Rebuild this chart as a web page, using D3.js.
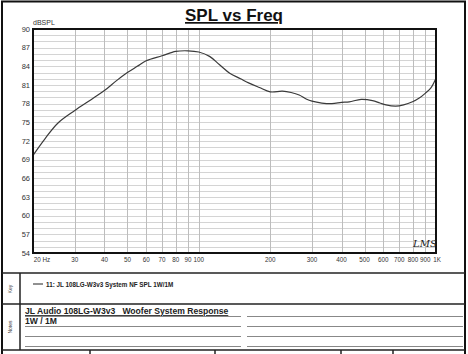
<!DOCTYPE html>
<html>
<head>
<meta charset="utf-8">
<script src="https://cdn.jsdelivr.net/npm/d3@7"></script>
<style>
  html, body { margin: 0; padding: 0; background: #fff; }
  svg { display: block; font-family: "Liberation Sans", Arial, sans-serif; }
</style>
</head>
<body>
<div id="chart"></div>
<script>
// curve data
const freqs = [20, 22.5, 25.5, 30, 35, 40, 45, 50, 55, 60, 70, 80, 90, 100, 111, 122, 135, 150, 163, 180,
  200, 225, 245, 265, 285, 300, 330, 364, 400, 431, 484, 540, 580, 615, 676, 730, 796, 850, 903, 950, 1000];
const spl = [69.7, 72.4, 74.9, 76.9, 78.6, 80.1, 81.7, 83.0, 84.0, 84.9, 85.7, 86.4, 86.5, 86.3, 85.6, 84.3, 82.9, 82.0, 81.3, 80.6,
  79.9, 80.0, 79.8, 79.4, 78.7, 78.4, 78.1, 78.0, 78.2, 78.3, 78.7, 78.5, 78.1, 77.8, 77.6, 77.8, 78.3, 78.9, 79.7, 80.5, 82.1];

const yTicks = [90, 87, 84, 81, 78, 75, 72, 69, 66, 63, 60, 57, 54];
const xGrid = [20, 30, 40, 50, 60, 70, 80, 90, 100, 200, 300, 400, 500, 600, 700, 800, 900, 1000];
const xLabels = ["20 Hz", "30", "40", "50", "60", "70", "80", "90", "100", "200", "300", "400", "500", "600", "700", "800", "900", "1K"];

const title = "SPL vs Freq";
const keyText = "11: JL 108LG-W3v3 System NF SPL 1W/1M";
const notes = ["JL Audio 108LG-W3v3   Woofer System Response", "1W / 1M"];

const width = 468, height = 354;
const plot = { left: 33, right: 436, top: 29, bottom: 253 };

const svg = d3.select("#chart").append("svg")
  .attr("width", width).attr("height", height);

const x = d3.scaleLog().domain([20, 1000]).range([plot.left, plot.right]);
const y = d3.scaleLinear().domain([54, 90]).range([plot.bottom, plot.top]);

// outer frame
svg.append("rect").attr("x", 2).attr("y", 1.5).attr("width", 463).attr("height", 360)
  .attr("fill", "none").attr("stroke", "#111").attr("stroke-width", 2);

// title
svg.append("text").attr("x", 234).attr("y", 21).attr("text-anchor", "middle")
  .attr("font-size", 17).attr("font-weight", "bold").attr("fill", "#111")
  .attr("text-decoration", "underline").text(title);

// grid: 1 dB horizontal lines
const g = svg.append("g");
g.selectAll(".hg").data(d3.range(55, 90)).enter().append("line")
  .attr("x1", plot.left).attr("x2", plot.right)
  .attr("y1", d => Math.round(y(d)) + 0.5).attr("y2", d => Math.round(y(d)) + 0.5)
  .attr("stroke", "#d4d4d4").attr("stroke-width", 1);
g.selectAll(".vg").data(xGrid.slice(1, -1)).enter().append("line")
  .attr("y1", plot.top).attr("y2", plot.bottom)
  .attr("x1", d => Math.round(x(d)) + 0.5).attr("x2", d => Math.round(x(d)) + 0.5)
  .attr("stroke", "#bdbdbd").attr("stroke-width", 1);

// y tick labels
svg.selectAll(".yl").data(yTicks).enter().append("text")
  .attr("x", 30).attr("y", d => y(d) + 2.5).attr("text-anchor", "end")
  .attr("font-size", 7.5).attr("fill", "#333").text(d => d);
svg.append("text").attr("x", 33).attr("y", 25).attr("font-size", 7).attr("fill", "#333").text("dBSPL");

// x tick labels
svg.selectAll(".xl").data(xGrid).enter().append("text")
  .attr("x", (d, i) => i === 0 ? x(d) + 9 : (i === xGrid.length - 1 ? x(d) + 1 : x(d)))
  .attr("y", 262).attr("text-anchor", "middle")
  .attr("font-size", 6.3).attr("fill", "#333").text((d, i) => xLabels[i]);

// response curve
const line = d3.line().x((d, i) => x(freqs[i])).y(d => y(d)).curve(d3.curveCatmullRom);
svg.append("path").datum(spl).attr("d", line)
  .attr("fill", "none").attr("stroke", "#3a3a3a").attr("stroke-width", 1.2);

// plot border
svg.append("rect").attr("x", plot.left).attr("y", plot.top)
  .attr("width", plot.right - plot.left).attr("height", plot.bottom - plot.top)
  .attr("fill", "none").attr("stroke", "#111").attr("stroke-width", 2);

// LMS mark
svg.append("text").attr("x", 413).attr("y", 247).attr("font-size", 10)
  .attr("font-style", "italic").attr("font-family", "DejaVu Serif").attr("fill", "#222").text("LMS");

// lower table
const frame = svg.append("g").attr("stroke", "#222").attr("stroke-width", 1.5);
[273, 304, 350].forEach(v => frame.append("line").attr("x1", 2).attr("x2", 465).attr("y1", v).attr("y2", v));
frame.append("line").attr("x1", 20).attr("x2", 20).attr("y1", 273).attr("y2", 350);
[90, 215, 341, 393].forEach(v => frame.append("line").attr("x1", v).attr("x2", v).attr("y1", 350).attr("y2", 354));

svg.append("text").attr("transform", "translate(12,289) rotate(-90)").attr("text-anchor", "middle")
  .attr("font-size", 5).attr("fill", "#333").text("Key");
svg.append("text").attr("transform", "translate(12,327) rotate(-90)").attr("text-anchor", "middle")
  .attr("font-size", 5).attr("fill", "#333").text("Notes");

svg.append("line").attr("x1", 33).attr("x2", 43).attr("y1", 284).attr("y2", 284)
  .attr("stroke", "#222").attr("stroke-width", 1);
svg.append("text").attr("x", 46).attr("y", 286.5).attr("font-size", 6.3).attr("font-weight", "bold")
  .attr("fill", "#222").text(keyText);

// note lines
[316, 326, 336, 346].forEach(v => {
  svg.append("line").attr("x1", 25).attr("x2", 241).attr("y1", v + 0.5).attr("y2", v + 0.5).attr("stroke", "#888");
  svg.append("line").attr("x1", 247).attr("x2", 463).attr("y1", v + 0.5).attr("y2", v + 0.5).attr("stroke", "#888");
});
svg.append("text").attr("x", 25).attr("y", 314).attr("font-size", 8.6).attr("font-weight", "bold")
  .attr("fill", "#222").attr("text-decoration", "underline").style("white-space", "pre").text(notes[0]);
svg.append("text").attr("x", 25).attr("y", 324).attr("font-size", 8.6).attr("font-weight", "bold")
  .attr("fill", "#222").text(notes[1]);
</script>
</body>
</html>
